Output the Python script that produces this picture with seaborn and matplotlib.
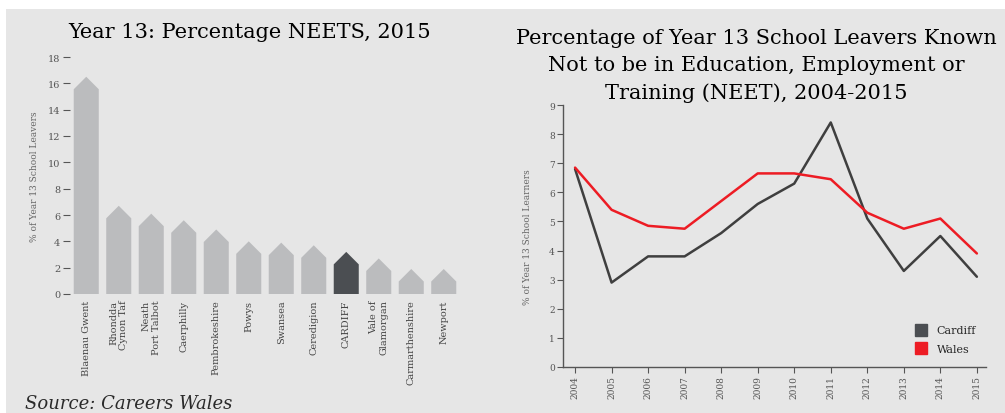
import matplotlib
matplotlib.use("Agg")
import matplotlib.pyplot as plt
from matplotlib.patches import Polygon, Rectangle
from matplotlib.lines import Line2D
import pandas as pd
import seaborn as sns

# left chart: Year 13 NEETs by local authority, 2015
areas = ["Blaenau Gwent", "Rhondda\nCynon Taf", "Neath\nPort Talbot", "Caerphilly",
         "Pembrokeshire", "Powys", "Swansea", "Ceredigion", "CARDIFF",
         "Vale of\nGlamorgan", "Carmarthenshire", "Newport"]
neet_2015 = [16.5, 6.7, 6.1, 5.6, 4.9, 4.0, 3.9, 3.7, 3.2, 2.7, 1.9, 1.9]

# right chart: Cardiff vs Wales 2004-2015
years = [2004, 2005, 2006, 2007, 2008, 2009, 2010, 2011, 2012, 2013, 2014, 2015]
cardiff = [6.8, 2.9, 3.8, 3.8, 4.6, 5.6, 6.3, 8.4, 5.1, 3.3, 4.5, 3.1]
wales = [6.85, 5.4, 4.85, 4.75, 5.7, 6.65, 6.65, 6.45, 5.3, 4.75, 5.1, 3.9]

BG = "#e6e6e6"
LIGHT = "#bbbcbe"
DARK = "#4b4e52"
RED = "#ed1c24"
TICK = "#555555"

sns.set_style("ticks")
plt.rcParams["font.family"] = ["DejaVu Serif", "DejaVu Sans"]

fig = plt.figure(figsize=(10.05, 4.14), dpi=100)
fig.patch.set_facecolor("white")
fig.patches.append(Rectangle((6 / 1005, 0), 1 - 6 / 1005, 404 / 414, transform=fig.transFigure,
                             facecolor=BG, edgecolor="none", zorder=-10))

# ---- left: house shaped bars
ax1 = fig.add_axes([70 / 1005, 119 / 414, 390 / 1005, 237 / 414])
ax1.set_facecolor("none")
bar_df = pd.DataFrame({"area": areas, "pct": neet_2015})
pal = {a: (DARK if a == "CARDIFF" else LIGHT) for a in areas}
sns.barplot(data=bar_df, x="area", y="pct", hue="area", palette=pal, legend=False,
            width=0.77, saturation=1, ax=ax1)
ax1.set_xlim(-0.5, len(areas) - 0.5)
ax1.set_ylim(0, 18)
for p in list(ax1.patches):
    x0, w, h = p.get_x(), p.get_width(), p.get_height()
    # roof at 45 degrees in pixel space
    px_w = ax1.transData.transform((x0 + w, 0))[0] - ax1.transData.transform((x0, 0))[0]
    px_per_unit = ax1.transData.transform((0, 1))[1] - ax1.transData.transform((0, 0))[1]
    r = (px_w / 2) / px_per_unit
    ax1.add_patch(Polygon([(x0, 0), (x0, h - r), (x0 + w / 2, h), (x0 + w, h - r), (x0 + w, 0)],
                          closed=True, facecolor=p.get_facecolor(), edgecolor="none"))
    p.set_visible(False)

sns.despine(ax=ax1, left=True, bottom=True)
ax1.set_yticks(range(0, 19, 2))
ax1.tick_params(axis="y", length=5, width=0.8, color=TICK, labelcolor=TICK, labelsize=7, pad=2)
ax1.set_xticks(range(len(areas)))
ax1.set_xticklabels(areas, rotation=90, ha="center", va="top", multialignment="right")
ax1.tick_params(axis="x", length=0, labelcolor="#444444", labelsize=7, pad=4)
ax1.set_xlabel("")
ax1.set_ylabel("% of Year 13 School Leavers", color="#666666", fontsize=6.5, labelpad=6)
fig.text(250 / 1005, 1 - 33 / 414, "Year 13: Percentage NEETS, 2015", ha="center", va="center",
         fontsize=15, color="black")
fig.text(25 / 1005, 1 - 404 / 414, "Source: Careers Wales", ha="left", va="center",
         fontsize=13, style="italic", color="#2a2a2a")

# ---- right: line chart
ax2 = fig.add_axes([563 / 1005, 46 / 414, 423 / 1005, 262 / 414])
ax2.set_facecolor("none")
line_df = pd.DataFrame({"year": years * 2, "pct": cardiff + wales,
                        "area": ["Cardiff"] * len(years) + ["Wales"] * len(years)})
sns.lineplot(data=line_df, x="year", y="pct", hue="area", palette={"Cardiff": "#3f3f3f", "Wales": RED},
             linewidth=1.8, legend=False, ax=ax2)
ax2.set_xlim(years[0] - 0.33, years[-1] + 0.25)
ax2.set_ylim(0, 9)
ax2.set_yticks(range(0, 10))
ax2.set_xticks(years)
ax2.set_xticklabels([str(y) for y in years], rotation=90)
for s in ["left", "bottom"]:
    ax2.spines[s].set_color(TICK)
    ax2.spines[s].set_linewidth(1)
sns.despine(ax=ax2)
ax2.tick_params(axis="both", length=4, width=0.8, color=TICK, labelcolor=TICK, labelsize=6.5, pad=2)
ax2.set_xlabel("")
ax2.set_ylabel("% of Year 13 School Learners", color="#666666", fontsize=6.5, labelpad=12)
handles = [Line2D([], [], marker="s", ls="", color=DARK, markersize=8, label="Cardiff"),
           Line2D([], [], marker="s", ls="", color=RED, markersize=8, label="Wales")]
ax2.legend(handles=handles, loc="lower right", bbox_to_anchor=(1.0, 0.01), frameon=False,
           fontsize=8, labelspacing=0.8, handletextpad=0.4)
fig.text(756 / 1005, 1 - 66 / 414,
         "Percentage of Year 13 School Leavers Known\nNot to be in Education, Employment or\nTraining (NEET), 2004-2015",
         ha="center", va="center", fontsize=15, linespacing=1.5, color="black")

fig.savefig("out.png", dpi=100, facecolor=fig.get_facecolor())
